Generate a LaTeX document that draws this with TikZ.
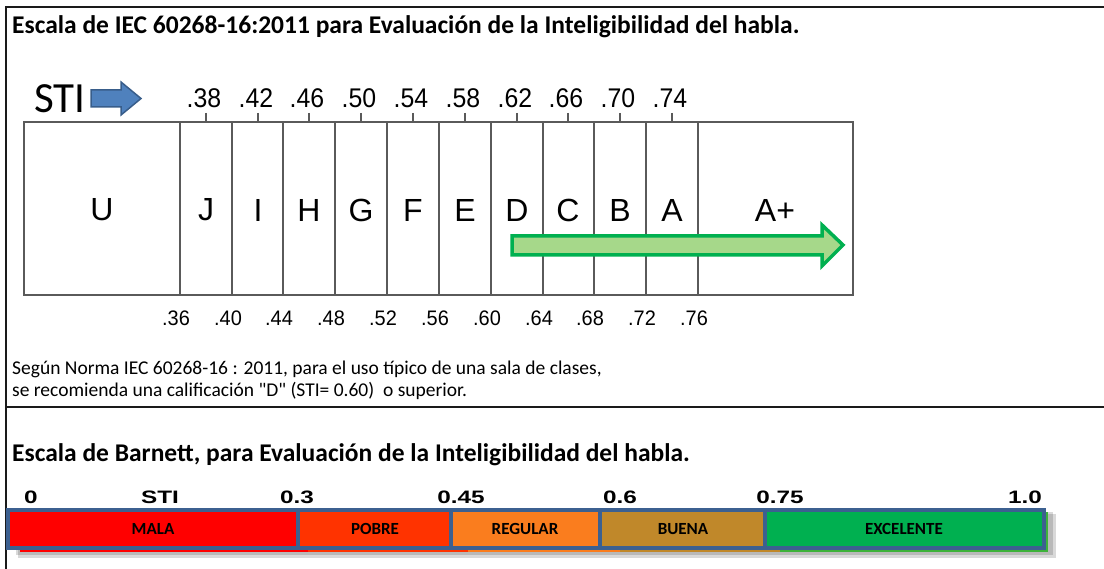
\documentclass[tikz,border=0pt]{standalone}
\usepackage{fontspec}
\setmainfont{Carlito}[Ligatures=TeXOff]
\newfontfamily\arialf{Liberation Sans}
\usetikzlibrary{calc}
\definecolor{frameblk}{HTML}{1A1A1A}
\definecolor{gridgray}{HTML}{5A5A5A}
\definecolor{arrowblue}{HTML}{4F81BD}
\definecolor{arrowbluedk}{HTML}{385D8A}
\definecolor{greenline}{HTML}{00B050}
\definecolor{greenfill}{HTML}{A6D88A}
\definecolor{barborder}{HTML}{3C6090}
\definecolor{cmala}{HTML}{FF0000}
\definecolor{cpobre}{HTML}{FF3300}
\definecolor{cregular}{HTML}{FA7D1E}
\definecolor{cbuena}{HTML}{C0882A}
\definecolor{cexcel}{HTML}{00B050}
\definecolor{cexcelsh}{HTML}{3DB23A}
\tikzset{
  titletext/.style={anchor=base west, inner sep=0pt, font=\fontsize{25.5}{28}\selectfont\bfseries},
  notetext/.style={anchor=base west, inner sep=0pt, font=\fontsize{19.5}{22}\selectfont},
  topnum/.style={inner sep=0pt, font=\arialf\fontsize{27}{30}\selectfont, xscale=0.92},
  botnum/.style={inner sep=0pt, font=\arialf\fontsize{21}{24}\selectfont, xscale=0.95},
  grade/.style={inner sep=0pt, font=\arialf\fontsize{32}{35}\selectfont},
  gridline/.style={draw=gridgray, line width=1.3pt},
  bnum/.style={inner sep=0pt, font=\arialf\bfseries\fontsize{18}{20}\selectfont, xscale=1.35},
  blabel/.style={inner sep=0pt, font=\bfseries\fontsize{17}{19}\selectfont},
}
\begin{document}
\begin{tikzpicture}[x=1pt,y=-1pt]
\useasboundingbox (0,0) rectangle (1104,569);
% frame
\draw[frameblk, line width=1.5pt] (1104,7) -- (6,7) -- (6,569);
\draw[frameblk, line width=1.5pt] (6,407) -- (1104,407);
% title
\node[titletext] (t1) at (12,34) {Escala de IEC 60268-16:2011 para Evaluación de la Inteligibilidad del habla.};
% STI label and arrow
\node[inner sep=0pt, font=\fontsize{43}{46}\selectfont] (sti) at (60,99) {STI};
\fill[arrowblue, draw=arrowbluedk, line width=1.5pt] (91,90) -- (121,90) -- (121,82) -- (141,98.5) -- (121,115) -- (121,107) -- (91,107) -- cycle;
% main scale box
\draw[gridline] (24,122) rectangle (853,295);
\foreach \i/\xx in {0/180,1/232,2/283,3/335,4/387,5/439,6/491,7/543,8/594,9/646,10/698} {
  \draw[gridline] (\xx,122) -- (\xx,295);
}
% top ticks and labels
\foreach \lab/\xx in {.38/206,.42/258,.46/309,.50/361,.54/413,.58/465,.62/517,.66/568,.70/620,.74/672} {
  \draw[gridline] (\xx,113) -- (\xx,122);
  \node[topnum] (tn\lab) at (\xx-2,98) {\lab};
}
% grade letters
\foreach \lab/\xx in {U/102,J/206,I/258,H/309,G/361,F/413,E/465,D/517,C/568,B/620,A/672,A+/775} {
  \node[grade] (g\lab) at (\xx,210) {\lab};
}
% bottom labels
\foreach \lab/\xx in {.36/176,.40/228,.44/279,.48/331,.52/383,.56/435,.60/487,.64/539,.68/590,.72/642,.76/694} {
  \node[botnum] (bn\lab) at (\xx,318) {\lab};
}
% green arrow
\fill[greenfill, draw=greenline, line width=3.5pt, line join=miter] (512,236) -- (822,236) -- (822,225) -- (843,245) -- (822,266) -- (822,255) -- (512,255) -- cycle;
% notes
\node[notetext] (n1) at (12,375) {Según Norma IEC 60268-16 : 2011, para el uso típico de una sala de clases,};
\node[notetext] (n2) at (12,397) {se recomienda una calificación "D" (STI= 0.60)~~o superior.};
% Barnett title
\node[titletext] (t2) at (12,461) {Escala de Barnett, para Evaluación de la Inteligibilidad del habla.};
% Barnett numbers
\node[bnum] (b0) at (31,497) {0};
\node[bnum] (bsti) at (160,497) {STI};
\node[bnum] (b3) at (297,497) {0.3};
\node[bnum] (b45) at (461,497) {0.45};
\node[bnum] (b6) at (620,497) {0.6};
\node[bnum] (b75) at (780,497) {0.75};
\node[bnum] (b10) at (1025,497) {1.0};
% shadow
\fill[black, opacity=0.15] (18,514) rectangle (1056,558);
\fill[black, opacity=0.15] (16,512) rectangle (1053,555);
\fill[cmala] (20,512) rectangle (308,552);
\fill[cpobre] (308,512) rectangle (468,552);
\fill[cregular] (468,512) rectangle (620,552);
\fill[cbuena] (620,512) rectangle (780,552);
\fill[cexcelsh] (780,512) rectangle (1048,552);
% bar
\fill[cmala] (8,510) rectangle (298,548);
\fill[cpobre] (298,510) rectangle (451,548);
\fill[cregular] (451,510) rectangle (600,548);
\fill[cbuena] (600,510) rectangle (765,548);
\fill[cexcel] (765,510) rectangle (1044,548);
\draw[barborder, line width=4pt] (8,510) rectangle (1044,548);
\foreach \xx in {298,451,600,765} { \draw[barborder, line width=4pt] (\xx,510) -- (\xx,548); }
\node[blabel] (bl1) at (153,529) {MALA};
\node[blabel] (bl2) at (375,529) {POBRE};
\node[blabel] (bl3) at (525,529) {REGULAR};
\node[blabel] (bl4) at (683,529) {BUENA};
\node[blabel] (bl5) at (904,529) {EXCELENTE};
\end{tikzpicture}
\end{document}
